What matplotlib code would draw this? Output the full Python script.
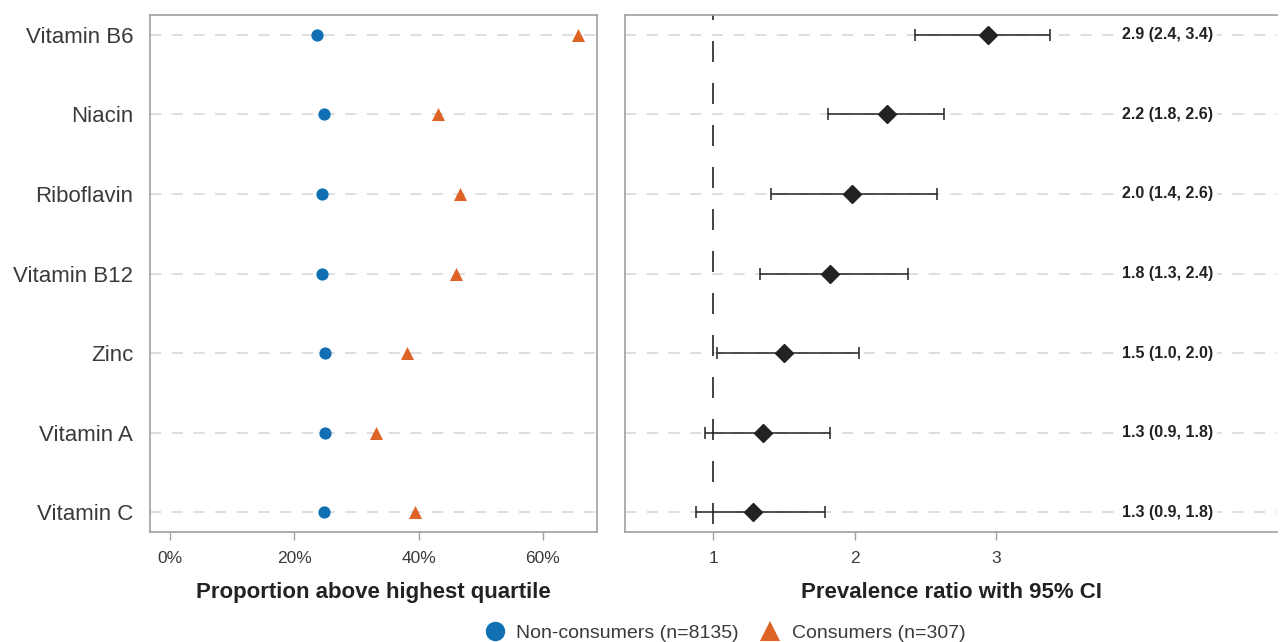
import matplotlib
matplotlib.use("Agg")
import matplotlib.pyplot as plt
from matplotlib.lines import Line2D
from matplotlib import font_manager

nutrients = ["Vitamin B6", "Niacin", "Riboflavin", "Vitamin B12", "Zinc", "Vitamin A", "Vitamin C"]
non_consumers = [23.7, 24.8, 24.5, 24.4, 25.0, 25.0, 24.8]
consumers = [65.6, 43.2, 46.6, 46.0, 38.1, 33.1, 39.4]
pr = [2.94, 2.23, 1.98, 1.83, 1.50, 1.35, 1.28]
pr_low = [2.43, 1.81, 1.41, 1.33, 1.03, 0.94, 0.88]
pr_high = [3.38, 2.63, 2.58, 2.38, 2.03, 1.83, 1.79]
pr_labels = ["2.9 (2.4, 3.4)", "2.2 (1.8, 2.6)", "2.0 (1.4, 2.6)", "1.8 (1.3, 2.4)",
             "1.5 (1.0, 2.0)", "1.3 (0.9, 1.8)", "1.3 (0.9, 1.8)"]
left_ticks = [0, 20, 40, 60]
left_ticklabels = ["0%", "20%", "40%", "60%"]
right_ticks = [1, 2, 3]

plt.rcParams['font.family'] = ['Liberation Sans', 'DejaVu Sans']

names = {f.name for f in font_manager.fontManager.ttflist}
narrow = 'Liberation Sans Narrow' if 'Liberation Sans Narrow' in names else 'Liberation Sans'
ann_size = 13.5 if narrow == 'Liberation Sans Narrow' else 11.5

BLUE = "#1170b4"
ORANGE = "#dd6326"
GRID = "#d4d4d4"
SPINE = "#a0a0a0"
TXT = "#3a3a3a"

W, H = 1285, 642
fig = plt.figure(figsize=(W / 100, H / 100), dpi=100)

def box(l, t, r, b):
    return [l / W, 1 - b / H, (r - l) / W, (b - t) / H]

ax1 = fig.add_axes(box(150, 15, 597, 532))
ax2 = fig.add_axes(box(625, 15, 1277, 532))

ys = list(range(len(nutrients)))

for ax in (ax1, ax2):
    for y in ys:
        ax.axhline(y, color=GRID, lw=1.1, dashes=(7.3, 6.9), zorder=0)
    ax.set_ylim(6.25, -0.25)
    for s in ax.spines.values():
        s.set_color(SPINE)
        s.set_linewidth(1.2)
    ax.tick_params(axis='x', direction='out', length=6, color=SPINE, width=1,
                   labelsize=12.5, labelcolor=TXT, pad=8)

# Left panel
ax1.scatter(non_consumers, ys, marker='o', s=78, color=BLUE, zorder=3, linewidths=0)
ax1.scatter(consumers, ys, marker='^', s=88, color=ORANGE, zorder=3, linewidths=0)
ax1.set_xlim(-3.2, 68.7)
ax1.set_xticks(left_ticks)
ax1.set_xticklabels(left_ticklabels)
ax1.set_yticks(ys)
ax1.set_yticklabels(nutrients, fontsize=16, color=TXT)
ax1.tick_params(axis='y', length=0, pad=12)
ax1.set_xlabel("Proportion above highest quartile", fontsize=16, fontweight='bold',
               color="#222222", labelpad=11)

# Right panel
ax2.spines['right'].set_visible(False)
ax2.plot([1, 1], [-0.25, 6.25], color="#222222", lw=1.2,
         linestyle=(9.6, (12.6, 12.6)), zorder=1)
for y, p, lo, hi in zip(ys, pr, pr_low, pr_high):
    ax2.errorbar([p], [y], xerr=[[p - lo], [hi - p]], fmt='D', color="#222222",
                 ms=9, capsize=4, elinewidth=1.1, capthick=1.1, zorder=3)
for y, lab in zip(ys, pr_labels):
    ax2.text(4.534, y, lab, ha='right', va='center', fontsize=ann_size, fontweight='bold',
             family=[narrow, 'Liberation Sans', 'DejaVu Sans'],
             color="#222222", bbox=dict(facecolor='white', edgecolor='none', pad=3), zorder=4)
ax2.set_xlim(0.378, 4.986)
ax2.set_xticks(right_ticks)
ax2.set_xticklabels([str(t) for t in right_ticks])
ax2.set_yticks([])
ax2.set_xlabel("Prevalence ratio with 95% CI", fontsize=16, fontweight='bold',
               color="#222222", labelpad=11)

handles = [
    Line2D([], [], marker='o', ls='none', color=BLUE, ms=14, mew=0, label="Non-consumers (n=8135)"),
    Line2D([], [], marker='^', ls='none', color=ORANGE, ms=14, mew=0, label="Consumers (n=307)"),
]
fig.legend(handles=handles, loc='center', bbox_to_anchor=(0.5625, 1 - 633 / H), ncol=2,
           frameon=False, fontsize=14, handletextpad=0.35, columnspacing=0.85,
           handlelength=1.5, labelcolor=TXT, borderpad=0)

fig.savefig("out.png", dpi=100)
